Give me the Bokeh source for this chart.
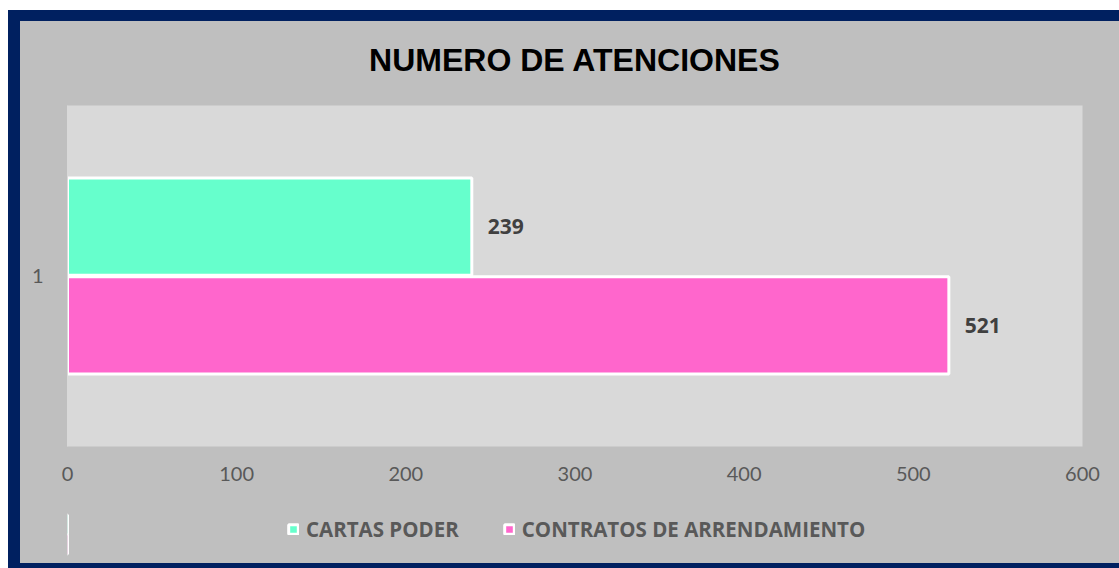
from bokeh.plotting import figure
from bokeh.layouts import column
from bokeh.models import FactorRange, Range1d, Legend, LegendItem, ColumnDataSource, FixedTicker
from bokeh.transform import dodge
from bokeh.core.properties import value
from bokeh.embed import file_html
from bokeh.resources import INLINE

categories = ["1"]
series_names = ["CARTAS PODER", "CONTRATOS DE ARRENDAMIENTO"]
cartas_poder = [239]
contratos = [521]
x_ticks = [0, 100, 200, 300, 400, 500, 600]
colors = ["#66ffcc", "#ff66cc"]

src = ColumnDataSource(dict(cat=categories, cartas=cartas_poder, contratos=contratos,
                            cartas_lbl=[str(v) for v in cartas_poder],
                            contratos_lbl=[str(v) for v in contratos]))

GRAY, NAVY = "#bfbfbf", "#002060"

# ---- main chart ----
p = figure(width=1119, height=500, y_range=FactorRange(*categories), x_range=(0, 600),
           output_backend="svg", toolbar_location=None,
           min_border_left=67, min_border_right=37, min_border_top=105, min_border_bottom=54)
p.background_fill_color = "#d9d9d9"
p.border_fill_alpha = 0
p.styles = {"background": f"linear-gradient({GRAY}, {GRAY}) 20px 21px / 100% 100% no-repeat, "
                          f"linear-gradient({NAVY}, {NAVY}) 8px 10px / 100% 100% no-repeat, #ffffff"}
p.outline_line_color = None
p.xgrid.grid_line_color = None
p.ygrid.grid_line_color = None

p.title.text = "NUMERO DE ATENCIONES"
p.title.align = "center"
p.title.text_font = "Liberation Sans"
p.title.text_font_size = "32px"
p.title.text_font_style = "bold"
p.title.text_color = "#000000"
p.title.standoff = 56

def bars(fig):
    a = fig.hbar(y=dodge("cat", 0.145, range=fig.y_range), right="cartas", left=0, height=0.285,
                 source=src, fill_color=colors[0], line_color="white", line_width=3)
    b = fig.hbar(y=dodge("cat", -0.145, range=fig.y_range), right="contratos", left=0, height=0.285,
                 source=src, fill_color=colors[1], line_color="white", line_width=3)
    return a, b

bars(p)

for col, lbl, off in [("cartas", "cartas_lbl", 0.145), ("contratos", "contratos_lbl", -0.145)]:
    p.text(x=col, y=dodge("cat", off, range=p.y_range), text=lbl, source=src,
           x_offset=16, text_baseline="middle", text_align="left",
           text_font=value("Open Sans"), text_font_size="21px", text_font_style="bold",
           text_color="#404040")

p.xaxis.ticker = FixedTicker(ticks=x_ticks)
p.xaxis.axis_line_color = None
p.xaxis.major_tick_line_color = None
p.xaxis.major_tick_out = 0
p.xaxis.minor_tick_line_color = None
p.xaxis.major_label_text_font = "Lato"
p.xaxis.major_label_text_font_size = "20px"
p.xaxis.major_label_text_color = "#595959"
p.xaxis.major_label_standoff = 20

p.yaxis.axis_line_color = "#d9d9d9"
p.yaxis.major_tick_line_color = None
p.yaxis.major_label_text_font = "Lato"
p.yaxis.major_label_text_font_size = "20px"
p.yaxis.major_label_text_color = "#595959"
p.yaxis.major_label_standoff = 18

# ---- legend strip (same series, kept out of view; only the legend shows) ----
p2 = figure(width=1119, height=68, y_range=FactorRange(*categories), x_range=Range1d(5000, 6000),
            output_backend="svg", toolbar_location=None,
            x_axis_location=None, y_axis_location=None, min_border=0)
p2.background_fill_alpha = 0
p2.border_fill_alpha = 0
p2.outline_line_color = None
p2.grid.visible = False
p2.styles = {"background": f"linear-gradient({GRAY}, {GRAY}) 20px 0px / 100% 63px no-repeat, "
                           f"linear-gradient({NAVY}, {NAVY}) 8px 0px / 100% 100% no-repeat, #ffffff"}
l1, l2 = bars(p2)

legend = Legend(items=[LegendItem(label=series_names[0], renderers=[l1]),
                       LegendItem(label=series_names[1], renderers=[l2])],
                orientation="horizontal", location=(220, 25),
                background_fill_alpha=0, border_line_color=None,
                label_text_font="Open Sans", label_text_font_size="20.5px",
                label_text_font_style="bold", label_text_color="#595959",
                glyph_width=12, glyph_height=12, spacing=44, label_standoff=7,
                margin=0, padding=0)
p2.add_layout(legend)

layout = column(p, p2, spacing=0)
open("out.html", "w").write(file_html(layout, INLINE))
